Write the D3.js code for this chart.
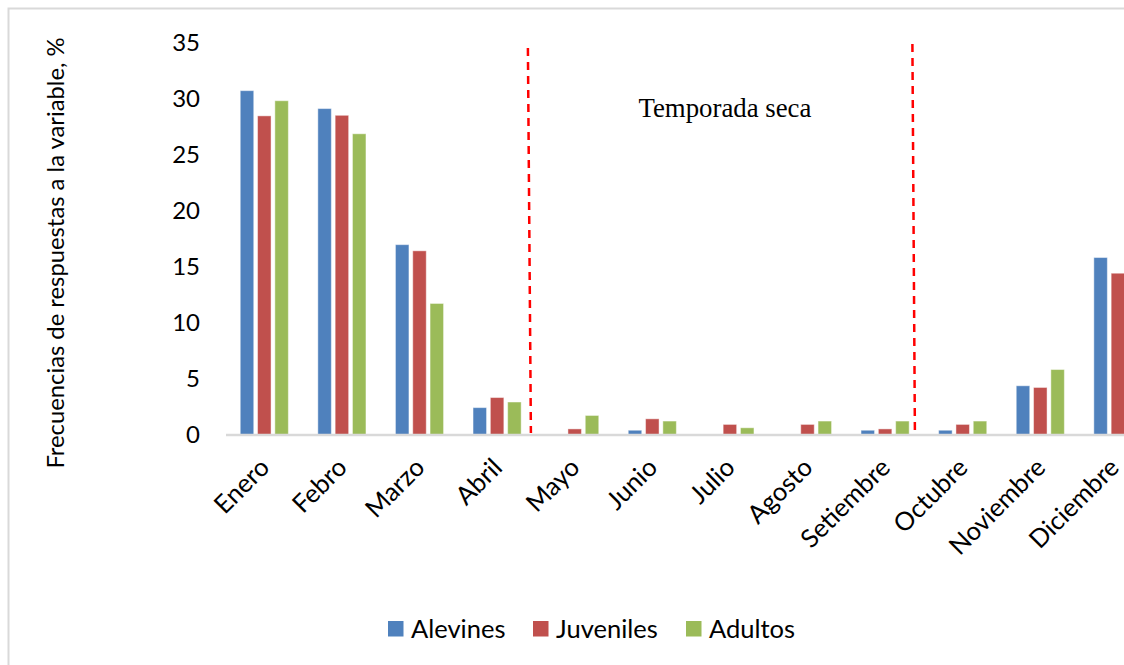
<!DOCTYPE html>
<html><head><meta charset="utf-8">
<script src="https://cdn.jsdelivr.net/npm/d3@7"></script>
<style>
html,body{margin:0;padding:0;background:#fff;}
svg{display:block;}
</style></head>
<body>
<svg id="chart" width="1124" height="665"></svg>
<script>
// ---- data ----
const months = ["Enero","Febro","Marzo","Abril","Mayo","Junio","Julio","Agosto","Setiembre","Octubre","Noviembre","Diciembre"];
const seriesNames = ["Alevines","Juveniles","Adultos"];
const alevines  = [30.7, 29.1, 16.95, 2.4, 0, 0.38, 0, 0, 0.38, 0.38, 4.35, 15.8];
const juveniles = [28.45, 28.5, 16.4, 3.3, 0.5, 1.4, 0.9, 0.9, 0.5, 0.9, 4.2, 14.4];
const adultos   = [29.8, 26.85, 11.7, 2.9, 1.7, 1.2, 0.6, 1.2, 1.2, 1.2, 5.8, 15.9];
const yTicks = [0, 5, 10, 15, 20, 25, 30, 35];
const colors = ["#4F81BD", "#C0504D", "#9BBB59"];
const seasonLabel = "Temporada seca";
const seasonStart = "Mayo", seasonEnd = "Octubre";
const yTitle = "Frecuencias de respuestas a la variable, %";

const seriesValues = [alevines, juveniles, adultos];
const rows = months.map((m, i) => ({month: m, values: seriesNames.map((s, j) => ({key: s, value: seriesValues[j][i]}))}));

const svg = d3.select("#chart");
const font = "Lato, 'Open Sans', sans-serif";

// border
svg.append("rect").attr("x", 8.5).attr("y", 8.5).attr("width", 1300).attr("height", 800)
  .attr("fill", "none").attr("stroke", "#d9d9d9").attr("stroke-width", 2);

const plotLeft = 225.5, plotRight = 1156.7, plotTop = 41, plotBottom = 434.5;

const x0 = d3.scaleBand().domain(months).range([plotLeft, plotRight]).paddingInner(0.38).paddingOuter(0.19);
const x1 = d3.scaleBand().domain(seriesNames).range([0, x0.bandwidth()]).paddingInner(0.22);
const y = d3.scaleLinear().domain([0, 35]).range([plotBottom, plotTop + 1.5]);
const color = d3.scaleOrdinal().domain(seriesNames).range(colors);

// bars
const g = svg.append("g");
g.selectAll("g.grp").data(rows).join("g").attr("class", "grp")
  .attr("transform", d => `translate(${x0(d.month)},0)`)
  .selectAll("rect").data(d => d.values).join("rect")
  .attr("x", d => x1(d.key))
  .attr("width", x1.bandwidth())
  .attr("y", d => y(d.value))
  .attr("height", d => y(0) - y(d.value))
  .attr("fill", d => color(d.key))
  .attr("stroke", "rgba(255,255,255,0.45)")
  .attr("stroke-width", 1);

// x axis line
const xAxis = d3.axisBottom(x0).tickSize(0).tickFormat("");
const xg = svg.append("g").attr("transform", `translate(0,${plotBottom})`).call(xAxis);
xg.select(".domain").attr("stroke", "#d9d9d9").attr("stroke-width", 2.5);

// x labels rotated
svg.append("g").selectAll("text").data(months).join("text")
  .attr("transform", d => `translate(${Math.min(x0(d) + x0.bandwidth()/2 - 6, 1108)},${plotBottom + 22}) rotate(-45)`)
  .attr("text-anchor", "end")
  .attr("dy", "0.7em")
  .attr("font-family", font).attr("font-size", 25.5).attr("fill", "#000")
  .text(d => d);

// y axis labels
const yAxis = d3.axisLeft(y).tickValues(yTicks).tickSize(0).tickPadding(0);
const yg = svg.append("g").attr("transform", `translate(200,0)`).call(yAxis);
yg.select(".domain").remove();
yg.selectAll("text").attr("font-family", font).attr("font-size", 24).attr("fill", "#000");

// y title
svg.append("text")
  .attr("transform", `translate(56,${253}) rotate(-90)`)
  .attr("text-anchor", "middle").attr("dy", "0.35em")
  .attr("font-family", font).attr("font-size", 23.8).attr("fill", "#000")
  .text(yTitle);

// season separators
const gapHalf = (x0.step() - x0.bandwidth()) / 2;
const sepA = x0(seasonStart) - gapHalf;
const sepB = x0(seasonEnd) - gapHalf;
const seps = [
  {x1: sepA - 8, y1: 48, x2: sepA - 5, y2: 433},
  {x1: sepB - 11.5, y1: 44, x2: sepB - 9, y2: 432}
];
svg.append("g").selectAll("line").data(seps).join("line")
  .attr("x1", d => d.x1).attr("y1", d => d.y1).attr("x2", d => d.x2).attr("y2", d => d.y2)
  .attr("stroke", "#FF0000").attr("stroke-width", 2.5).attr("stroke-dasharray", "8,6");

svg.append("text")
  .attr("x", (sepA + sepB) / 2 - 5).attr("y", 117)
  .attr("text-anchor", "middle")
  .attr("font-family", "'Liberation Serif', 'Times New Roman', serif").attr("font-size", 26.8)
  .attr("fill", "#000").text(seasonLabel);

// legend
const legX = [388, 533, 686];
const leg = svg.append("g").selectAll("g").data(seriesNames).join("g")
  .attr("transform", (d, i) => `translate(${legX[i]},621)`);
leg.append("rect").attr("width", 15.5).attr("height", 15.5).attr("fill", d => color(d));
leg.append("text").attr("x", 23).attr("y", 8).attr("dy", "0.36em")
  .attr("font-family", font).attr("font-size", 25.5).attr("fill", "#000").text(d => d);
</script>
</body></html>
